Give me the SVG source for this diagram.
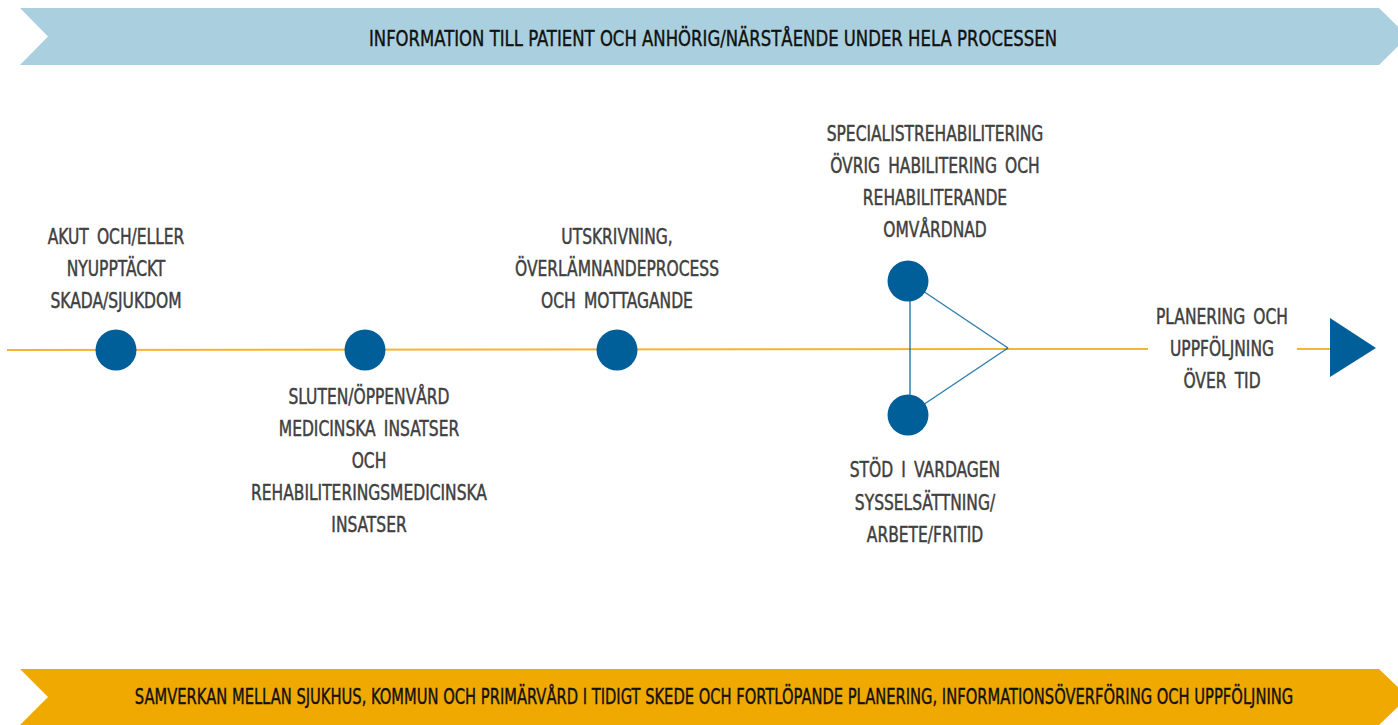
<svg xmlns="http://www.w3.org/2000/svg" width="1398" height="725" viewBox="0 0 1398 725">
  <style>
    .lbl { font-family: "Liberation Sans Narrow", "DejaVu Sans Condensed", "Liberation Sans", sans-serif; font-size: 21px; fill: #404040; stroke: #404040; stroke-width: 0.45; text-anchor: middle; word-spacing: 4px; }
    .ban { font-family: "Liberation Sans Narrow", "DejaVu Sans Condensed", "Liberation Sans", sans-serif; font-size: 22px; fill: #111111; stroke: #111111; stroke-width: 0.4; text-anchor: middle; }
    .dot { fill: #005F99; }
    .tl { stroke: #005F99; stroke-opacity: 0.8; stroke-width: 1.5; fill: none; }
    .yl { stroke: #F6B52E; stroke-width: 2; fill: none; }
  </style>
  <rect width="1398" height="725" fill="#FFFFFF"/>

  <g id="banner-top">
    <polygon points="20,8 1379,8 1408,36.5 1379,65 20,65 48,36.5" fill="#AAD0DF"/>
    <g transform="translate(713,0) scale(0.88,1)">
      <text class="ban" x="0" y="46" textLength="782" lengthAdjust="spacingAndGlyphs">INFORMATION TILL PATIENT OCH ANHÖRIG/NÄRSTÅENDE UNDER HELA PROCESSEN</text>
    </g>
  </g>

  <g id="banner-bottom">
    <polygon points="20,669 1379,669 1408,697 1379,725 20,725 48,697" fill="#F0A900"/>
    <g transform="translate(714,0) scale(0.81,1)">
      <text class="ban" x="0" y="704" textLength="1430" lengthAdjust="spacingAndGlyphs">SAMVERKAN MELLAN SJUKHUS, KOMMUN OCH PRIMÄRVÅRD I TIDIGT SKEDE OCH FORTLÖPANDE PLANERING, INFORMATIONSÖVERFÖRING OCH UPPFÖLJNING</text>
    </g>
  </g>

  <g id="connectors">
    <line class="yl" x1="7" y1="350" x2="1148" y2="349"/>
    <line class="yl" x1="1297" y1="349" x2="1330" y2="349"/>
    <line class="tl" x1="910" y1="281" x2="910" y2="415"/>
    <line class="tl" x1="908" y1="281" x2="1008" y2="348"/>
    <line class="tl" x1="908" y1="415" x2="1008" y2="348"/>
    <polygon points="1330,318 1376,348 1330,377" fill="#005F99"/>
  </g>

  <g id="node-akut">
    <circle class="dot" cx="116" cy="350" r="20.5"/>
    <g transform="translate(116,0) scale(0.82,1)">
      <text class="lbl" x="0" y="244">AKUT OCH/ELLER</text>
      <text class="lbl" x="0" y="276">NYUPPTÄCKT</text>
      <text class="lbl" x="0" y="308">SKADA/SJUKDOM</text>
    </g>
  </g>

  <g id="node-sluten">
    <circle class="dot" cx="365" cy="350" r="20.5"/>
    <g transform="translate(369,0) scale(0.82,1)">
      <text class="lbl" x="0" y="404">SLUTEN/ÖPPENVÅRD</text>
      <text class="lbl" x="0" y="436">MEDICINSKA INSATSER</text>
      <text class="lbl" x="0" y="468">OCH</text>
      <text class="lbl" x="0" y="500">REHABILITERINGSMEDICINSKA</text>
      <text class="lbl" x="0" y="532">INSATSER</text>
    </g>
  </g>

  <g id="node-utskrivning">
    <circle class="dot" cx="617" cy="350" r="20.5"/>
    <g transform="translate(617,0) scale(0.82,1)">
      <text class="lbl" x="0" y="244">UTSKRIVNING,</text>
      <text class="lbl" x="0" y="276">ÖVERLÄMNANDEPROCESS</text>
      <text class="lbl" x="0" y="308">OCH MOTTAGANDE</text>
    </g>
  </g>

  <g id="node-specialist">
    <circle class="dot" cx="908" cy="281" r="20.5"/>
    <g transform="translate(935,0) scale(0.82,1)">
      <text class="lbl" x="0" y="141">SPECIALISTREHABILITERING</text>
      <text class="lbl" x="0" y="173">ÖVRIG HABILITERING OCH</text>
      <text class="lbl" x="0" y="205">REHABILITERANDE</text>
      <text class="lbl" x="0" y="237">OMVÅRDNAD</text>
    </g>
  </g>

  <g id="node-stod">
    <circle class="dot" cx="908" cy="415" r="20.5"/>
    <g transform="translate(925,0) scale(0.82,1)">
      <text class="lbl" x="0" y="477">STÖD I VARDAGEN</text>
      <text class="lbl" x="0" y="510">SYSSELSÄTTNING/</text>
      <text class="lbl" x="0" y="542">ARBETE/FRITID</text>
    </g>
  </g>

  <g id="node-planering">
    <g transform="translate(1222,0) scale(0.82,1)">
      <text class="lbl" x="0" y="324">PLANERING OCH</text>
      <text class="lbl" x="0" y="356">UPPFÖLJNING</text>
      <text class="lbl" x="0" y="388">ÖVER TID</text>
    </g>
  </g>
</svg>
